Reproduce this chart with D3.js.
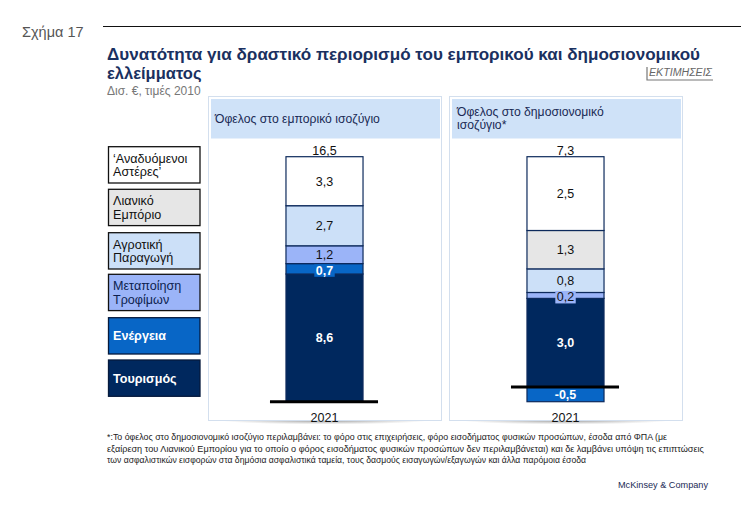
<!DOCTYPE html>
<html>
<head>
<meta charset="utf-8">
<script src="https://cdn.jsdelivr.net/npm/d3@7"></script>
<style>
  html, body { margin: 0; padding: 0; background: #fff; }
  svg { display: block; font-family: "Liberation Sans", Arial, sans-serif; }
</style>
</head>
<body>
<svg id="chart" width="754" height="517"></svg>
<script>
// ---------- DATA ----------
const categories = ["Τουρισμός", "Ενέργεια", "Μεταποίηση Τροφίμων", "Αγροτική Παραγωγή", "Λιανικό Εμπόριο", "‘Αναδυόμενοι Αστέρες’"];
const legendLines = [["Τουρισμός"], ["Ενέργεια"], ["Μεταποίηση", "Τροφίμων"], ["Αγροτική", "Παραγωγή"], ["Λιανικό", "Εμπόριο"], ["‘Αναδυόμενοι", "Αστέρες’"]];
const tradeValues = [8.6, 0.7, 1.2, 2.7, 0, 3.3];
const fiscalValues = [3.0, -0.5, 0.2, 0.8, 1.3, 2.5];
const totals = ["16,5", "7,3"];
const years = ["2021"];
const panelTitles = [["Όφελος στο εμπορικό ισοζύγιο"], ["Όφελος στο δημοσιονομικό", "ισοζύγιο*"]];
const footnoteLines = [
  "*:Το όφελος στο δημοσιονομικό ισοζύγιο περιλαμβάνει: το φόρο στις επιχειρήσεις, φόρο εισοδήματος φυσικών προσώπων, έσοδα από ΦΠΑ (με",
  "εξαίρεση του Λιανικού Εμπορίου για το οποίο ο φόρος εισοδήματος φυσικών προσώπων δεν περιλαμβάνεται) και δε λαμβάνει υπόψη τις επιπτώσεις",
  "των ασφαλιστικών εισφορών στα δημόσια ασφαλιστικά ταμεία, τους δασμούς εισαγωγών/εξαγωγών και άλλα παρόμοια έσοδα"
];

// ---------- STYLE ----------
const colors = ["#00285e", "#0866c6", "#9bb4f8", "#cce0f8", "#e6e6e6", "#ffffff"];
const labelColors = ["#ffffff", "#ffffff", "#111111", "#111111", "#111111", "#111111"];
const labelWeights = ["bold", "bold", "normal", "normal", "normal", "normal"];
const legendText = ["#ffffff", "#ffffff", "#0d1f4f", "#111111", "#111111", "#111111"];
const navy = "#0d2a5c";
const fmt = v => d3.format(".1f")(v).replace(".", ",").replace("−", "-");

const svg = d3.select("#chart");
const defs = svg.append("defs");
const rg = defs.append("radialGradient").attr("id", "shadow").attr("cx", "50%").attr("cy", "0%").attr("r", "50%");
rg.append("stop").attr("offset", "0%").attr("stop-color", "#666").attr("stop-opacity", 0.75);
rg.append("stop").attr("offset", "100%").attr("stop-color", "#888").attr("stop-opacity", 0);

// ---------- HEADER ----------
svg.append("text").attr("x", 22).attr("y", 37).attr("font-size", 14.5).attr("fill", "#555").text("Σχήμα 17");
svg.append("line").attr("x1", 103).attr("x2", 741).attr("y1", 26.5).attr("y2", 26.5).attr("stroke", "#111").attr("stroke-width", 1.2);
svg.append("text").attr("x", 107).attr("y", 60).attr("font-size", 16.5).attr("font-weight", "bold").attr("fill", "#1a3060")
  .attr("textLength", 593).attr("lengthAdjust", "spacingAndGlyphs")
  .text("Δυνατότητα για δραστικό περιορισμό του εμπορικού και δημοσιονομικού");
svg.append("text").attr("x", 107).attr("y", 79).attr("font-size", 16.5).attr("font-weight", "bold").attr("fill", "#1a3060").text("ελλείμματος");
svg.append("text").attr("x", 107).attr("y", 95).attr("font-size", 12).attr("fill", "#777").text("Δισ. €, τιμές 2010");
svg.append("text").attr("x", 649).attr("y", 76).attr("font-size", 10).attr("font-style", "italic").attr("fill", "#666")
  .attr("textLength", 63).attr("lengthAdjust", "spacingAndGlyphs").text("ΕΚΤΙΜΗΣΕΙΣ");
svg.append("path").attr("d", "M647,67V80H713").attr("fill", "none").attr("stroke", "#777").attr("stroke-width", 1.2);

// ---------- PANELS ----------
const panels = [
  { x0: 208, x1: 441, values: tradeValues, total: totals[0], domain: [0, 16.5], title: panelTitles[0] },
  { x0: 449, x1: 682, values: fiscalValues, total: totals[1], domain: [-0.5, 7.8], title: panelTitles[1] }
];
const yTop = 156.7, yBot = 401.7;

panels.forEach(p => {
  const g = svg.append("g");
  // shadow
  g.append("rect").attr("x", p.x0 + 10).attr("y", 420).attr("width", p.x1 - p.x0 - 20).attr("height", 9).attr("fill", "url(#shadow)");
  g.append("rect").attr("x", p.x0 + 0.5).attr("y", 96.5).attr("width", p.x1 - p.x0).attr("height", 324)
    .attr("fill", "#fff").attr("stroke", "#d3dfee").attr("stroke-width", 1);
  g.append("rect").attr("x", p.x0 + 3).attr("y", 99).attr("width", p.x1 - p.x0 - 4).attr("height", 39.5).attr("fill", "#cfe2f8");
  const tl = g.append("text").attr("font-size", 12.2).attr("fill", "#1a2a55");
  if (p.title.length === 1) {
    tl.append("tspan").attr("x", p.x0 + 7).attr("y", 123).text(p.title[0]);
  } else {
    p.title.forEach((t, i) => tl.append("tspan").attr("x", p.x0 + 8).attr("y", 116 + i * 12.7).text(t));
  }

  const x = d3.scaleBand().domain(years).range([p.x0, p.x1]).paddingInner(0.503).paddingOuter(0.503);
  const y = d3.scaleLinear().domain(p.domain).range([yBot, yTop]);

  const row = { year: years[0] };
  categories.forEach((c, i) => row[c] = p.values[i]);
  const series = d3.stack().keys(categories).offset(d3.stackOffsetDiverging)([row]);

  const bw = x.bandwidth();
  series.forEach((s, i) => {
    const d = s[0];
    const v = p.values[i];
    if (v === 0) return;
    const yA = y(Math.max(d[0], d[1])), yB = y(Math.min(d[0], d[1]));
    g.append("rect").attr("x", x(years[0])).attr("y", yA).attr("width", bw).attr("height", yB - yA)
      .attr("fill", colors[i]).attr("stroke", navy).attr("stroke-width", 1.2);
  });
  // labels
  series.forEach((s, i) => {
    const d = s[0];
    const v = p.values[i];
    if (v === 0) return;
    const yA = y(Math.max(d[0], d[1])), yB = y(Math.min(d[0], d[1]));
    const cy = (yA + yB) / 2 + (yB - yA < 14 && v > 0 ? 1.5 : 0);
    const cx = x(years[0]) + bw / 2;
    const t = g.append("text").attr("x", cx).attr("y", cy).attr("dy", "0.36em").attr("text-anchor", "middle")
      .attr("font-size", 12.5).attr("font-weight", labelWeights[i]).attr("fill", labelColors[i]).text(fmt(v));
    if (yB - yA < 14) {
      const bb = t.node().getBBox();
      g.insert("rect", () => t.node()).attr("x", bb.x - 1.5).attr("y", cy - 6).attr("width", bb.width + 3).attr("height", 12.5)
        .attr("fill", colors[i]);
    }
  });
  // total
  g.append("text").attr("x", x(years[0]) + bw / 2).attr("y", 150).attr("dy", "0.36em").attr("text-anchor", "middle")
    .attr("font-size", 12.5).attr("fill", "#111").text(p.total);
  // baseline
  g.append("line").attr("x1", x(years[0]) - 16).attr("x2", x(years[0]) + bw + 15)
    .attr("y1", y(0)).attr("y2", y(0)).attr("stroke", "#000").attr("stroke-width", 3);
  // axis
  const ax = g.append("g").attr("transform", `translate(0,${yBot})`)
    .call(d3.axisBottom(x).tickSize(0).tickPadding(11));
  ax.select(".domain").remove();
  ax.selectAll("text").attr("font-size", 12.5).attr("fill", "#111").attr("font-family", "Liberation Sans, Arial, sans-serif");
});

// ---------- LEGEND ----------
const legendTops = [360, 317.7, 274.3, 232.7, 189.3, 146.7];
const lg = svg.append("g");
categories.forEach((c, i) => {
  const top = legendTops[i];
  lg.append("rect").attr("x", 108.5).attr("y", top).attr("width", 91.5).attr("height", 36.3)
    .attr("fill", colors[i]).attr("stroke", i < 2 ? "#061a3c" : "#111").attr("stroke-width", 1.3);
  const lines = legendLines[i];
  const t = lg.append("text").attr("font-size", 12.6).attr("fill", legendText[i])
    .attr("font-weight", i < 2 ? "bold" : "normal");
  const mid = top + 18.2;
  lines.forEach((ln, j) => {
    t.append("tspan").attr("x", 113).attr("y", mid + (j - (lines.length - 1) / 2) * 13.2).attr("dy", "0.36em").text(ln);
  });
});

// ---------- FOOTNOTE ----------
const fnWidths = [560, 597, 479];
footnoteLines.forEach((ln, i) => {
  svg.append("text").attr("x", 107).attr("y", 440 + i * 11.7).attr("font-size", 9).attr("fill", "#222")
    .attr("textLength", fnWidths[i]).attr("lengthAdjust", "spacingAndGlyphs").text(ln);
});
svg.append("text").attr("x", 618).attr("y", 488).attr("font-size", 9.5).attr("fill", "#1a2a55")
  .attr("textLength", 90).attr("lengthAdjust", "spacingAndGlyphs").text("McKinsey & Company");
</script>
</body>
</html>
